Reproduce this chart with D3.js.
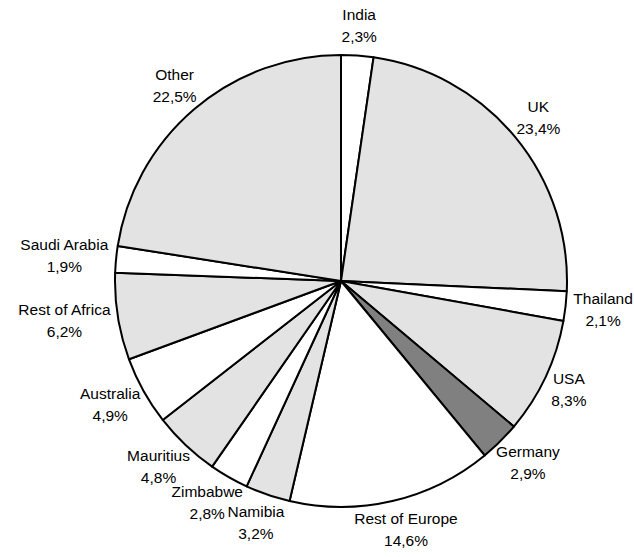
<!DOCTYPE html>
<html>
<head>
<meta charset="utf-8">
<script src="https://cdn.jsdelivr.net/npm/d3@7"></script>
<style>
  body { margin: 0; background: #fff; }
  text { font-family: "Liberation Sans", Arial, sans-serif; font-size: 15.5px; fill: #000; }
</style>
</head>
<body>
<div id="chart"></div>
<script>
// slices, clockwise from 12 o'clock
const countries = ["India", "UK", "Thailand", "USA", "Germany", "Rest of Europe", "Namibia",
  "Zimbabwe", "Mauritius", "Australia", "Rest of Africa", "Saudi Arabia", "Other"];
const shares = [2.3, 23.4, 2.1, 8.3, 2.9, 14.6, 3.2, 2.8, 4.8, 4.9, 6.2, 1.9, 22.5];
const fills = ["#ffffff", "#e3e3e3", "#ffffff", "#e3e3e3", "#808080", "#ffffff", "#e3e3e3",
  "#ffffff", "#e3e3e3", "#ffffff", "#e3e3e3", "#ffffff", "#e3e3e3"];

const width = 634;
const height = 557;
const cx = 341;
const cy = 281;
const radius = 226;

const data = countries.map((name, i) => ({ name, value: shares[i], fill: fills[i] }));

const svg = d3
  .select("#chart")
  .append("svg")
  .attr("width", width)
  .attr("height", height);

const g = svg.append("g").attr("transform", `translate(${cx},${cy})`);

const pie = d3.pie().value((d) => d.value).sort(null);
const arc = d3.arc().innerRadius(0).outerRadius(radius);
const arcs = pie(data);

g.selectAll("path")
  .data(arcs)
  .enter()
  .append("path")
  .attr("d", arc)
  .attr("fill", (d) => d.data.fill)
  .attr("stroke", "#000")
  .attr("stroke-width", 2)
  .attr("stroke-linejoin", "round");

// labels sit outside the rim, pushed out by half their box
const fmt = (v) => v.toFixed(1).replace(".", ",") + "%";
const gap = 8;
const lineGap = 22;

const labels = g
  .selectAll("g.label")
  .data(arcs)
  .enter()
  .append("g")
  .attr("class", "label");

labels
  .append("text")
  .attr("text-anchor", "middle")
  .attr("y", -lineGap / 2 + 5)
  .text((d) => d.data.name);

labels
  .append("text")
  .attr("text-anchor", "middle")
  .attr("y", lineGap / 2 + 5)
  .text((d) => fmt(d.data.value));

labels.attr("transform", function (d) {
  const a = (d.startAngle + d.endAngle) / 2;
  const s = Math.sin(a);
  const c = -Math.cos(a);
  const w = d3.max(d3.select(this).selectAll("text").nodes(), (n) => n.getComputedTextLength());
  const h = 2 * lineGap;
  const x = (radius + gap) * s + (s * w) / 2;
  const y = (radius + gap) * c + (c * h) / 2;
  return `translate(${x},${y})`;
});
</script>
</body>
</html>
